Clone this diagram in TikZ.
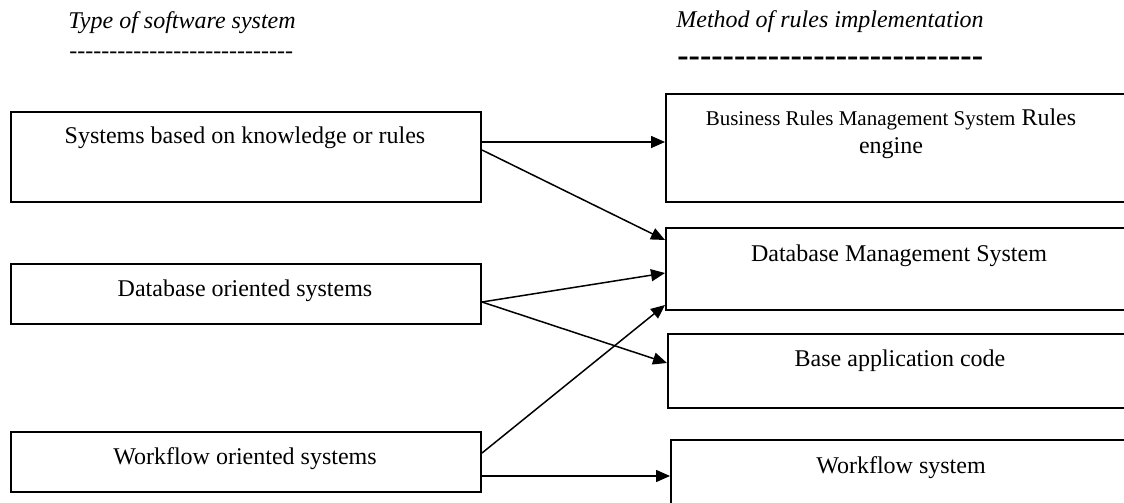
\documentclass[tikz,border=0pt]{standalone}
\usepackage{fontspec}
\setmainfont{Liberation Serif}
\usetikzlibrary{arrows.meta,calc}
\newcommand\hyrow[1]{\foreach \k in {1,...,#1}{\mbox{-}}}
\begin{document}
\begin{tikzpicture}[x=0.5pt,y=-0.5pt,
  box/.style={draw,line width=1pt,inner sep=0pt,minimum width=235pt,anchor=north west},
  rbox/.style={draw,line width=1pt,inner sep=0pt,minimum width=240pt,anchor=north west},
  lbl/.style={inner sep=0pt,anchor=base,font=\fontsize{12}{14}\selectfont},
  ttl/.style={inner sep=0pt,anchor=base west,font=\fontsize{12}{14}\selectfont\itshape},
  arr/.style={line width=0.75pt,-{Triangle[length=7pt,width=6pt]}}]
\useasboundingbox (0,0) rectangle (1124,503);
\clip (0,0) rectangle (1124,503);
% titles
\node[ttl] (tleft) at (68,28) {Type of software system};
\node[inner sep=0pt,anchor=base west,font=\fontsize{12}{14}\selectfont] (dleft) at (69,58) {\hyrow{28}};
\node[ttl] (tright) at (676,27) {Method of rules implementation};
\node[inner sep=0pt,anchor=base west,font=\fontsize{17}{20}\selectfont\bfseries] (dright) at (677,66) {\hyrow{27}};
% left boxes
\node[box,minimum height=45pt] (L1) at (10,111) {};
\node[box,minimum height=30pt] (L2) at (10,263) {};
\node[box,minimum height=30pt] (L3) at (10,431) {};
% right boxes
\node[rbox,minimum height=54pt] (R1) at (665,93) {};
\node[rbox,minimum height=41pt] (R2) at (665,227) {};
\node[rbox,minimum height=37pt] (R3) at (667,333) {};
\node[rbox,minimum height=51pt] (R4) at (670,439) {};
% texts
\node[lbl] (t1) at (245,143) {Systems based on knowledge or rules};
\node[lbl] (t2) at (245,296) {Database oriented systems};
\node[lbl] (t3) at (245,464) {Workflow oriented systems};
\node[lbl] (r1a) at (891,125) {{\fontsize{10.5}{12}\selectfont Business Rules Management System} Rules};
\node[lbl] (r1b) at (891,153) {engine};
\node[lbl] (r2) at (899,261) {Database Management System};
\node[lbl] (r3) at (900,366) {Base application code};
\node[lbl] (r4) at (901,473) {Workflow system};
% connectors
\draw[arr] ([yshift=-15.5pt]L1.north east) -- ([yshift=-15.5pt]L1.north east -| R1.west);
\draw[arr] ([yshift=-19.5pt]L1.north east) -- ([yshift=-6.5pt]R2.north west);
\draw[arr] ([yshift=-19.5pt]L2.north east) -- ([yshift=-23pt]R2.north west);
\draw[arr] ([yshift=-19.5pt]L2.north east) -- ([yshift=-15pt]R3.north west);
\draw[arr] ([yshift=-11pt]L3.north east) -- ([yshift=3pt]R2.south west);
\draw[arr] ([yshift=-22.5pt]L3.north east) -- ([yshift=-22.5pt]L3.north east -| R4.west);
\end{tikzpicture}
\end{document}
